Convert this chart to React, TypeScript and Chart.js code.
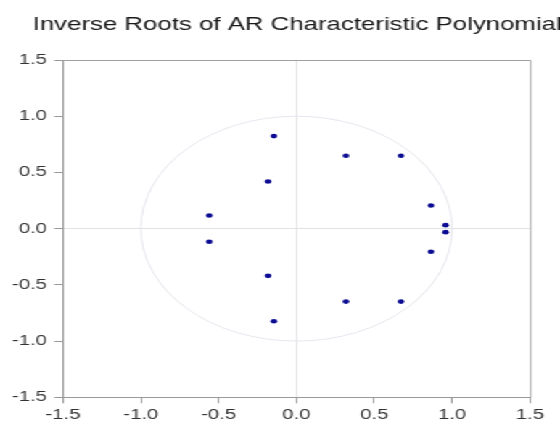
import React, { useEffect, useRef } from "react";
import { Chart, registerables } from "chart.js";

Chart.register(...registerables);

const chartTitle = "Inverse Roots of AR Characteristic Polynomial";

// Inverse roots (real, imaginary parts)
const rootReal = [-0.145, -0.145, -0.182, -0.182, -0.56, -0.56, 0.318, 0.318, 0.671, 0.671, 0.864, 0.864, 0.958, 0.958];
const rootImag = [0.823, -0.823, 0.42, -0.42, 0.117, -0.117, 0.649, -0.649, 0.649, -0.649, 0.206, -0.206, 0.031, -0.031];

const axisTickValues = [-1.5, -1.0, -0.5, 0.0, 0.5, 1.0, 1.5];
const axisTickLabels = ["-1.5", "-1.0", "-0.5", "0.0", "0.5", "1.0", "1.5"];
const unitCircleRadius = 1;

const STRETCH = 1.4508;
const LOGICAL_W = 386;
const LOGICAL_H = 423;

const FONT = '"Liberation Sans", Arial, sans-serif';

const refPlugin = {
  id: "refPlugin",
  beforeDatasetsDraw(chart: any) {
    const { ctx, scales } = chart;
    const x = scales.x;
    const y = scales.y;
    const cx = x.getPixelForValue(0);
    const cy = y.getPixelForValue(0);
    const rx = x.getPixelForValue(unitCircleRadius) - cx;
    const ry = cy - y.getPixelForValue(unitCircleRadius);
    ctx.save();
    ctx.beginPath();
    ctx.ellipse(cx, cy, rx, ry, 0, 0, Math.PI * 2);
    ctx.strokeStyle = "#e6e6ee";
    ctx.lineWidth = 1;
    ctx.stroke();
    ctx.restore();
  },
  afterDraw(chart: any) {
    const { ctx, chartArea } = chart;
    ctx.save();
    ctx.strokeStyle = "#a0a0a0";
    ctx.lineWidth = 1;
    ctx.beginPath();
    ctx.moveTo(chartArea.left, chartArea.top + 0.5);
    ctx.lineTo(chartArea.right + 0.5, chartArea.top + 0.5);
    ctx.lineTo(chartArea.right + 0.5, chartArea.bottom);
    ctx.stroke();
    ctx.font = `17.8px ${FONT}`;
    ctx.fillStyle = "#1a1a1a";
    ctx.textAlign = "center";
    ctx.textBaseline = "alphabetic";
    ctx.fillText(chartTitle, (chartArea.left + chartArea.right) / 2 + 0.5, 29.5);
    ctx.restore();
  },
};

function makeAxis(isX: boolean) {
  return {
    type: "linear" as const,
    min: -1.5,
    max: 1.5,
    afterBuildTicks: (scale: any) => {
      scale.ticks = axisTickValues.map((v) => ({ value: v }));
    },
    afterFit: (scale: any) => {
      if (isX) scale.height = 25.7;
      else scale.width = 43.4;
    },
    ticks: {
      autoSkip: false,
      maxRotation: 0,
      padding: isX ? 3 : 5,
      color: "#333333",
      font: { family: FONT, size: 14 },
      callback: (_v: any, i: number) => axisTickLabels[i],
    },
    grid: {
      drawOnChartArea: true,
      color: (c: any) => (c.tick && c.tick.value === 0 ? "#e2e2e2" : "rgba(0,0,0,0)"),
      tickColor: "#999999",
      tickLength: 6,
      lineWidth: 1,
    },
    border: { display: true, color: "#999999", width: 1 },
  };
}

export default function App() {
  const canvasRef = useRef<HTMLCanvasElement | null>(null);

  useEffect(() => {
    if (!canvasRef.current) return;
    const points = rootReal.map((r, i) => ({ x: r, y: rootImag[i] }));
    const chart = new Chart(canvasRef.current, {
      type: "scatter",
      data: {
        datasets: [
          {
            label: "Inverse roots",
            data: points,
            backgroundColor: "#0c0c92",
            borderColor: "#0c0c92",
            borderWidth: 0,
            pointRadius: 2.3,
          },
        ],
      },
      options: {
        animation: false,
        responsive: true,
        maintainAspectRatio: false,
        layout: { padding: { top: 60, right: 20.7, bottom: 0, left: 0 } },
        plugins: {
          legend: { display: false },
          title: { display: false },
          tooltip: { enabled: false },
        },
        scales: {
          x: makeAxis(true),
          y: makeAxis(false),
        },
      },
      plugins: [refPlugin],
    });
    return () => chart.destroy();
  }, []);

  return (
    <div
      style={{
        position: "fixed",
        left: 0,
        top: 0,
        width: LOGICAL_W,
        height: LOGICAL_H,
        background: "#ffffff",
        transform: `scaleX(${STRETCH})`,
        transformOrigin: "0 0",
      }}
    >
      <div style={{ position: "relative", width: LOGICAL_W, height: LOGICAL_H }}>
        <canvas ref={canvasRef} />
      </div>
    </div>
  );
}
